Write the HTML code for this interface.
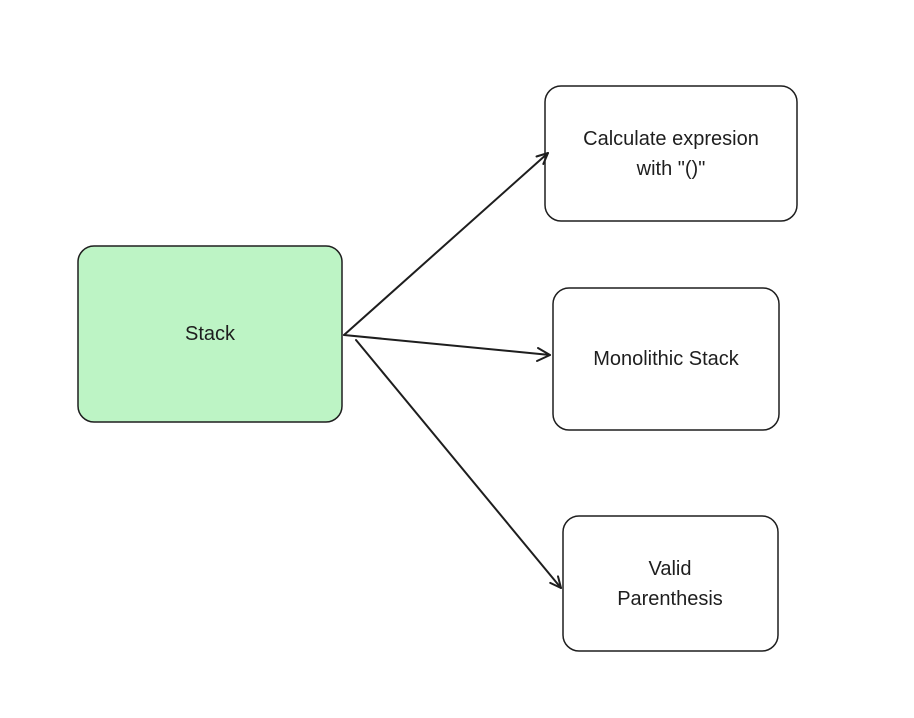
<!DOCTYPE html>
<html><head><style>
html,body{margin:0;padding:0;background:#fff;width:914px;height:718px;overflow:hidden}
svg text{font-family:"Liberation Sans",sans-serif;font-size:20px;fill:#1e1e1e;text-anchor:middle}
</style></head><body>
<svg width="914" height="718" viewBox="0 0 914 718" xmlns="http://www.w3.org/2000/svg">
<g stroke="#1e1e1e" stroke-width="1.5" fill="none">
<rect x="78" y="246" width="264" height="176" rx="16" fill="#b2f2bb" fill-opacity="0.85"/>
<rect x="545" y="86" width="252" height="135" rx="16" fill="#fff"/>
<rect x="553" y="288" width="226" height="142" rx="16" fill="#fff"/>
<rect x="563" y="516" width="215" height="135" rx="16" fill="#fff"/>
<g stroke-width="2" stroke-linecap="round" stroke-linejoin="round">
<path d="M344 335 L548 153"/><path d="M536.5 156.5 L548 153 L543.3 164"/>
<path d="M344 335 L550 355"/><path d="M538 348 L550 355 L537 361"/>
<path d="M356 340 L561 588"/><path d="M558 576.4 L561 588 L550.2 582.9"/>
</g>
</g>
<text x="210" y="340">Stack</text>
<text x="671" y="145">Calculate expresion</text>
<text x="671" y="175">with "()"</text>
<text x="666" y="365">Monolithic Stack</text>
<text x="670" y="575">Valid</text>
<text x="670" y="605">Parenthesis</text>
</svg>
</body></html>
